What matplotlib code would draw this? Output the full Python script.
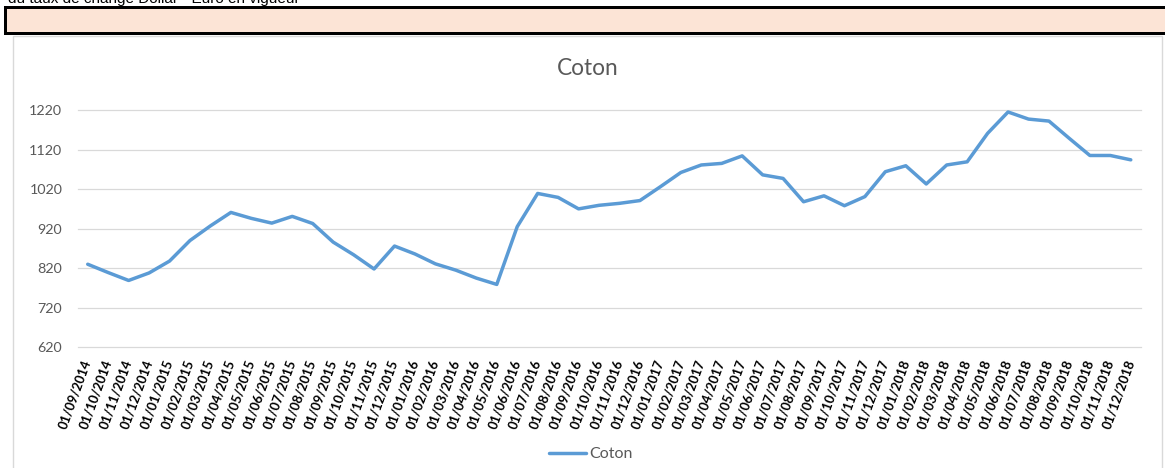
import matplotlib
matplotlib.use("Agg")
import matplotlib.pyplot as plt
from matplotlib.patches import Rectangle

# ---- data ----
dates = [
    "01/09/2014", "01/10/2014", "01/11/2014", "01/12/2014",
    "01/01/2015", "01/02/2015", "01/03/2015", "01/04/2015", "01/05/2015", "01/06/2015",
    "01/07/2015", "01/08/2015", "01/09/2015", "01/10/2015", "01/11/2015", "01/12/2015",
    "01/01/2016", "01/02/2016", "01/03/2016", "01/04/2016", "01/05/2016", "01/06/2016",
    "01/07/2016", "01/08/2016", "01/09/2016", "01/10/2016", "01/11/2016", "01/12/2016",
    "01/01/2017", "01/02/2017", "01/03/2017", "01/04/2017", "01/05/2017", "01/06/2017",
    "01/07/2017", "01/08/2017", "01/09/2017", "01/10/2017", "01/11/2017", "01/12/2017",
    "01/01/2018", "01/02/2018", "01/03/2018", "01/04/2018", "01/05/2018", "01/06/2018",
    "01/07/2018", "01/08/2018", "01/09/2018", "01/10/2018", "01/11/2018", "01/12/2018",
]
coton = [
    830, 809, 789, 808, 838, 890, 927, 961, 946, 934,
    951, 933, 886, 854, 818, 876, 856, 831, 815, 795,
    779, 925, 1009, 999, 970, 979, 984, 991, 1026, 1062,
    1081, 1085, 1104, 1056, 1047, 988, 1003, 978, 1001, 1064,
    1079, 1033, 1081, 1089, 1161, 1215, 1197, 1192, 1148, 1105,
    1105, 1094,
]
y_ticks = [620, 720, 820, 920, 1020, 1120, 1220]
series_name = "Coton"
title = "Coton"
header_text = "du taux de change Dollar - Euro en vigueur"

W, H = 1165, 468
fig = plt.figure(figsize=(W / 100, H / 100), dpi=100)
fig.patch.set_facecolor("white")

def fx(px):
    return px / W

def fy(py):
    return 1 - py / H

# header text (cut off at top, as in the source)
fig.text(fx(8), fy(3.5), header_text, fontsize=11, family="Liberation Sans",
         color="black", ha="left", va="baseline")

# peach box with thick black border
fig.patches.append(Rectangle((fx(4), fy(35)), fx(1200 - 4), (35 - 6.5) / H,
                             transform=fig.transFigure, facecolor="black",
                             edgecolor="none", zorder=1))
fig.patches.append(Rectangle((fx(7), fy(32)), fx(1200 - 7), (32 - 9.5) / H,
                             transform=fig.transFigure, facecolor="#FCE4D6",
                             edgecolor="none", zorder=2))

# chart area border
fig.patches.append(Rectangle((fx(13), fy(480)), fx(1162 - 13), (480 - 36.5) / H,
                             transform=fig.transFigure, facecolor="white",
                             edgecolor="#D9D9D9", linewidth=1.0, zorder=1))

# plot area
left, right, top, bottom = 77.5, 1141, 110, 347.3
ax = fig.add_axes([fx(left), fy(bottom), fx(right - left), (bottom - top) / H])
ax.set_zorder(5)
ax.set_facecolor("none")
x = list(range(len(coton)))
ax.plot(x, coton, color="#5B9BD5", linewidth=2.5, solid_joinstyle="round",
        solid_capstyle="round", label=series_name, zorder=3)

ax.set_xlim(-0.5, len(coton) - 0.5)
ax.set_ylim(620, 1220)
ax.set_yticks(y_ticks)
ax.set_yticklabels([str(v) for v in y_ticks], family="Lato", fontsize=10.3, color="#595959")
ax.set_xticks(x)
ax.set_xticklabels(dates, rotation=70, ha="right", va="center",
                   rotation_mode="anchor", family="Lato", fontweight="bold",
                   fontsize=9.4, color="black")
ax.tick_params(axis="both", length=0)
ax.tick_params(axis="y", pad=11)
ax.tick_params(axis="x", pad=9)
ax.grid(axis="y", color="#D9D9D9", linewidth=0.9)
for gl in ax.get_ygridlines():
    gl.set_clip_on(False)
ax.set_axisbelow(True)
for s in ax.spines.values():
    s.set_visible(False)

fig.text(fx(587.5), fy(68.5), title, fontsize=16.3, family="Lato", color="#595959",
         ha="center", va="center", zorder=6)

leg = ax.legend(loc="center", bbox_to_anchor=(fx(591), fy(454)),
                bbox_transform=fig.transFigure, frameon=False,
                handlelength=2.3, handletextpad=0.2,
                prop={"family": "Lato", "size": 11.5})
for t in leg.get_texts():
    t.set_color("#595959")

fig.savefig("out.png", dpi=100, facecolor="white")
